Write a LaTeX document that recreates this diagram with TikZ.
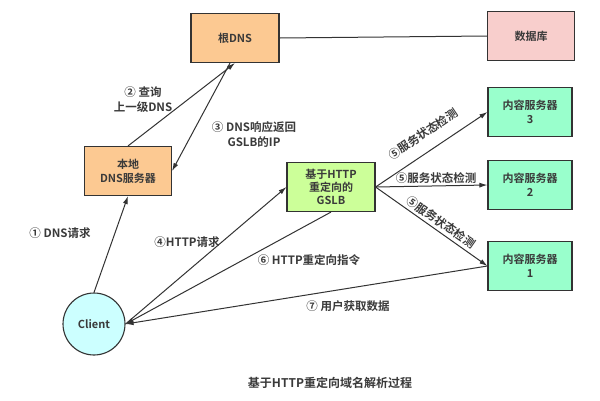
\documentclass[tikz,border=0pt]{standalone}
\usepackage{fontspec}
\setmainfont{Noto Sans CJK SC}[BoldFont={Noto Sans CJK SC Bold}]
\usetikzlibrary{arrows.meta}
\definecolor{peach}{HTML}{FCC992}
\definecolor{dbpink}{HTML}{F8CECC}
\definecolor{gslbgreen}{HTML}{CCFF99}
\definecolor{srvgreen}{HTML}{99FFCC}
\definecolor{clientcyan}{HTML}{CCFFFF}
\definecolor{linec}{HTML}{333333}
\definecolor{textc}{HTML}{3A3A3A}
\tikzset{
  box/.style={draw=linec, line width=1.1pt, minimum width=88pt, minimum height=49pt,
    align=center, inner sep=2pt, font=\bfseries\fontsize{11}{14}\selectfont, text=textc},
  srvbox/.style={box, fill=srvgreen, minimum width=84pt},
  arr/.style={draw=linec, line width=1pt, -{Latex[length=8pt,width=5pt]}},
  plain/.style={draw=linec, line width=1pt},
  lbl/.style={font=\bfseries\fontsize{11.5}{15}\selectfont, text=textc, align=center, inner sep=0pt}
}
\begin{document}
\begin{tikzpicture}[x=1pt,y=-1pt]
\useasboundingbox[fill=white] (0,0) rectangle (600,400);
% nodes
\node[box, fill=peach] (root) at (235,38) {根DNS};
\node[box, fill=dbpink, minimum width=87pt] (db) at (531,36) {数据库};
\node[box, fill=peach, minimum width=87pt] (local) at (128,171) {本地\\DNS服务器};
\node[box, fill=gslbgreen, inner sep=1pt, font=\bfseries\fontsize{11}{13}\selectfont] (gslb) at (331,187) {基于HTTP\\重定向的\\GSLB};
\node[srvbox] (s3) at (530,112) {内容服务器\\3};
\node[srvbox] (s2) at (530,185) {内容服务器\\2};
\node[srvbox] (s1) at (530,266) {内容服务器\\1};
\node[circle, draw=linec, line width=1.1pt, fill=clientcyan, minimum size=62pt, inner sep=0pt,
  font=\bfseries\fontsize{11}{13}\selectfont, text=textc] (client) at (94,324) {Client};
% connectors
\draw[plain] (root.east) -- (db.west);
\draw[arr] (client.north) -- (local.south);
\draw[arr] (local.north) -- (root.south);
\draw[arr] ([xshift=-5pt]root.south) -- (local.east);
\draw[arr] (client.east) -- (gslb.west);
\draw[arr] (gslb.south) -- (client.east);
\draw[arr] (s1.west) -- (client.east);
\draw[arr] (gslb.east) -- (s3.west);
\draw[arr] (gslb.east) -- (s2.west);
\draw[arr] (gslb.east) -- (s1.west);
% labels
\node[lbl] (l1) at (60,233) {① DNS请求};
\node[lbl] (l2) at (143,100) {② 查询\\上一级DNS};
\node[lbl] (l3) at (254,135) {③ DNS响应返回\\GSLB的IP};
\node[lbl] (l4) at (187,242) {④HTTP请求};
\node[lbl, rotate=34] (l5a) at (423,134) {⑤服务状态检测};
\node[lbl] (l5b) at (436,178) {⑤服务状态检测};
\node[lbl, rotate=-35] (l5c) at (441,222) {⑤服务状态检测};
\node[lbl] (l6) at (309,260) {⑥ HTTP重定向指令};
\node[lbl] (l7) at (348,306) {⑦ 用户获取数据};
\node[lbl, font=\bfseries\fontsize{12}{14}\selectfont] (title) at (330,383) {基于HTTP重定向域名解析过程};
\end{tikzpicture}
\end{document}
